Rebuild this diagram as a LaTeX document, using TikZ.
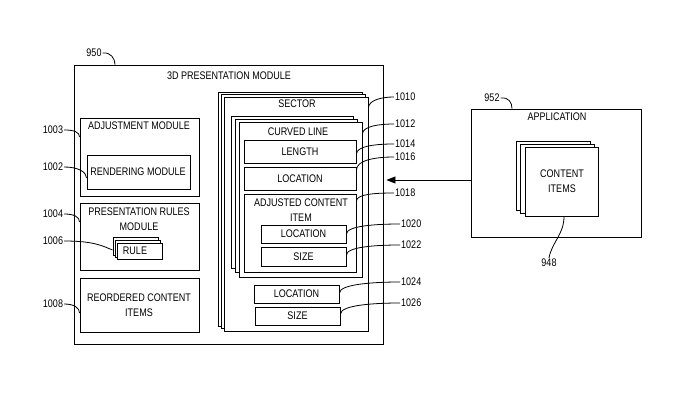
\documentclass[tikz,border=0pt]{standalone}
\usepackage{fontspec}
\setmainfont{Liberation Sans}[FakeStretch=0.82]
\usetikzlibrary{fit,arrows.meta}
\newcommand\rbox[5]{\node[box, fit={(#2,#3) (#4,#5)}] (#1) {};}
\begin{document}
\begin{tikzpicture}[x=1pt,y=-1pt,
  every node/.style={font=\fontsize{11}{15}\selectfont},
  box/.style={draw, line width=0.9pt, fill=white, inner sep=0pt},
  txt/.style={inner sep=0pt, align=center},
  lbl/.style={inner sep=1pt},
  lead/.style={line width=0.8pt}]
\useasboundingbox (0,0) rectangle (680,419);
% outer module
\rbox{outer}{74}{65}{383}{344}
\node[txt] (title) at (229,76) {3D PRESENTATION MODULE};
\rbox{adj}{80}{118}{199}{196}
\node[txt] (adjt) at (139,126) {ADJUSTMENT MODULE};
\rbox{rend}{87}{155}{190}{189}
\node[txt] (rendt) at (138,172) {RENDERING MODULE};
\rbox{prr}{80}{203}{199}{270}
\node[txt] (prrt) at (139,219) {PRESENTATION RULES\\MODULE};
\rbox{rule3}{113}{237}{158}{255}
\rbox{rule2}{115}{240}{160}{257}
\rbox{rule1}{117}{243}{162}{259}
\node[txt] (rulet) at (135,251) {RULE};
\rbox{reord}{80}{278}{199}{332}
\node[txt] (reordt) at (139,305) {REORDERED CONTENT\\ITEMS};
% sector stack
\rbox{sector3}{218}{92}{362}{326}
\rbox{sector2}{221}{94}{365}{328}
\rbox{sector1}{224}{97}{368}{331}
\node[txt] (sectort) at (297,104) {SECTOR};
\rbox{curved3}{231}{116}{353}{268}
\rbox{curved2}{235}{119}{357}{272}
\rbox{curved1}{239}{122}{362}{277}
\node[txt] (curvedt) at (298,132) {CURVED LINE};
\rbox{length}{244}{140}{356}{163}
\node[txt] (lengtht) at (length.center) {LENGTH};
\rbox{loc}{244}{167}{356}{190}
\node[txt] (loct) at (loc.center) {LOCATION};
\rbox{adjci}{244}{194}{356}{272}
\node[txt] (adjcit) at (301,210) {ADJUSTED CONTENT\\ITEM};
\rbox{loctwo}{261}{225}{346}{243}
\node[txt] (loctwot) at (loctwo.center) {LOCATION};
\rbox{sizetwo}{261}{247}{346}{266}
\node[txt] (sizetwot) at (sizetwo.center) {SIZE};
\rbox{locthree}{254}{285}{339}{303}
\node[txt] (locthreet) at (locthree.center) {LOCATION};
\rbox{sizethree}{255}{307}{340}{325}
\node[txt] (sizethreet) at (sizethree.center) {SIZE};
% application
\rbox{app}{471}{109}{641}{237}
\node[txt] (appt) at (557,117) {APPLICATION};
\rbox{ci3}{516}{141}{590}{210}
\rbox{ci2}{520}{144}{594}{213}
\rbox{ci1}{525}{147}{598}{216}
\node[txt] (cit) at (562,181) {CONTENT\\ITEMS};
% arrow
\draw[line width=0.9pt, -{Triangle[length=9pt,width=7pt]}] (app.west |- 0,180) -- ([xshift=3pt]outer.east |- 0,180);
% labels
\node[lbl] (l950) at (94,53) {950};
\node[lbl] (l952) at (492,98) {952};
\node[lbl] (l948) at (549,263) {948};
\node[lbl] (l1003) at (53,130) {1003};
\node[lbl] (l1002) at (53,167) {1002};
\node[lbl] (l1004) at (53,214) {1004};
\node[lbl] (l1006) at (53,241) {1006};
\node[lbl] (l1008) at (53,304) {1008};
\node[lbl, anchor=west] (l1010) at (394,97) {1010};
\node[lbl, anchor=west] (l1012) at (394,124) {1012};
\node[lbl, anchor=west] (l1014) at (394,144) {1014};
\node[lbl, anchor=west] (l1016) at (394,157) {1016};
\node[lbl, anchor=west] (l1018) at (394,193) {1018};
\node[lbl, anchor=west] (l1020) at (400,224) {1020};
\node[lbl, anchor=west] (l1022) at (400,245) {1022};
\node[lbl, anchor=west] (l1024) at (400,282) {1024};
\node[lbl, anchor=west] (l1026) at (400,303) {1026};
% leaders
\draw[lead] (l950.east) .. controls +(8,-1) and +(0,-6) .. (outer.north -| 115,0);
\draw[lead] (l952.east) .. controls +(8,-1) and +(0,-6) .. (app.north -| 512,0);
\draw[lead] (ci1.south -| 564,0) .. controls +(0,18) and +(3,-16) .. (l948.north);
\draw[lead] (l1003.east) .. controls +(10,0) and +(0,-5) .. (adj.west |- 0,137);
\draw[lead] (l1002.east) .. controls +(14,0) and +(0,-6) .. (rend.west |- 0,178);
\draw[lead] (l1004.east) .. controls +(10,0) and +(0,-5) .. (prr.west |- 0,222);
\draw[lead] (l1006.east) .. controls +(30,0) and +(-10,-4) .. (rule3.west |- 0,250);
\draw[lead] (l1008.east) .. controls +(10,0) and +(0,-5) .. (reord.west |- 0,313);
\draw[lead] (sector1.east |- 0,108) .. controls +(0,-8) and +(-12,0) .. (l1010.west);
\draw[lead] (curved1.east |- 0,134) .. controls +(0,-8) and +(-14,0) .. (l1012.west);
\draw[lead] (length.east |- 0,154) .. controls +(0,-8) and +(-18,0) .. (l1014.west);
\draw[lead] (loc.east |- 0,170) .. controls +(0,-10) and +(-18,0) .. (l1016.west);
\draw[lead] (adjci.east |- 0,201) .. controls +(0,-7) and +(-18,0) .. (l1018.west);
\draw[lead] (loctwo.east |- 0,234) .. controls +(0,-8) and +(-25,0) .. (l1020.west);
\draw[lead] (sizetwo.east |- 0,255) .. controls +(0,-8) and +(-25,0) .. (l1022.west);
\draw[lead] (locthree.east |- 0,293) .. controls +(0,-9) and +(-25,0) .. (l1024.west);
\draw[lead] (sizethree.east |- 0,314) .. controls +(0,-9) and +(-25,0) .. (l1026.west);
\end{tikzpicture}
\end{document}
